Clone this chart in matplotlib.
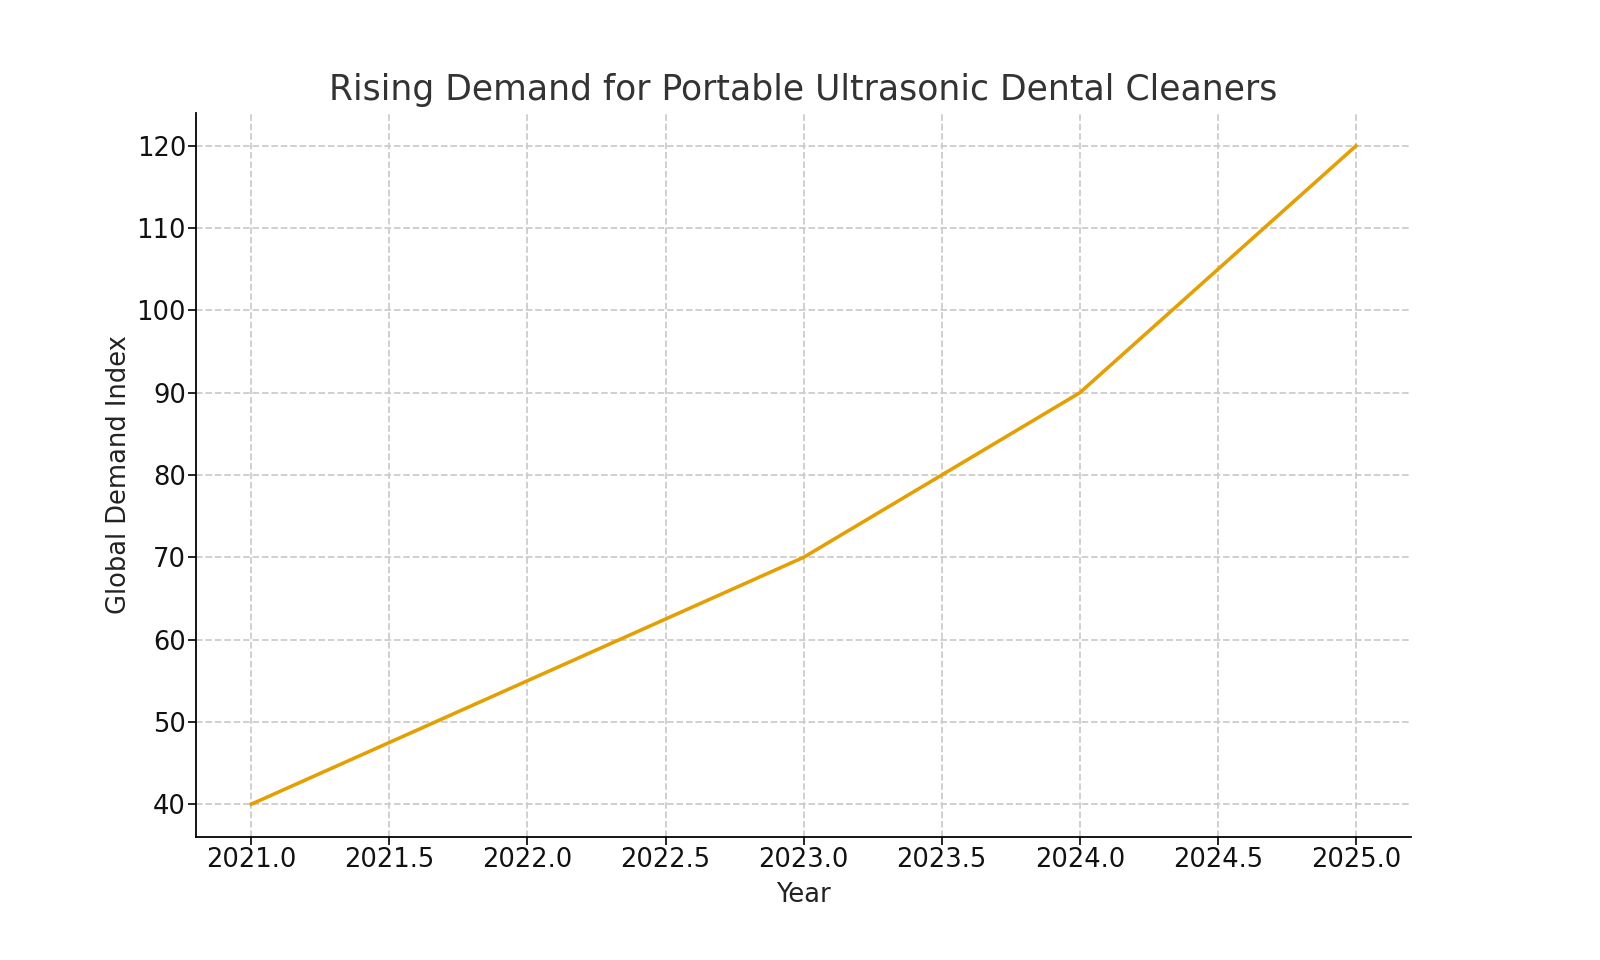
import matplotlib
matplotlib.use("Agg")
import matplotlib.pyplot as plt

years = [2021, 2022, 2023, 2024, 2025]
demand = [40, 55, 70, 90, 120]

fig = plt.figure(figsize=(10, 6), dpi=160)
ax = fig.add_axes([0.1225, 0.128, 0.7595, 0.7543])

ax.plot(years, demand, color="#E69F00", linewidth=1.6)

ax.set_title("Rising Demand for Portable Ultrasonic Dental Cleaners", fontsize=15.6, color="#333333", pad=6)
ax.set_xlabel("Year", fontsize=11.6, color="#222222", labelpad=4)
ax.set_ylabel("Global Demand Index", fontsize=11.6, color="#222222", labelpad=2)
ax.tick_params(labelsize=11.6, colors="#111111", length=3.5, pad=1)
ax.set_xticks([2021.0, 2021.5, 2022.0, 2022.5, 2023.0, 2023.5, 2024.0, 2024.5, 2025.0])
ax.set_xticklabels(["2021.0", "2021.5", "2022.0", "2022.5", "2023.0", "2023.5", "2024.0", "2024.5", "2025.0"])
ax.grid(True, linestyle="--", color="#cccccc", linewidth=0.8)
ax.spines["top"].set_visible(False)
ax.spines["right"].set_visible(False)

fig.savefig("out.png", dpi=160)
